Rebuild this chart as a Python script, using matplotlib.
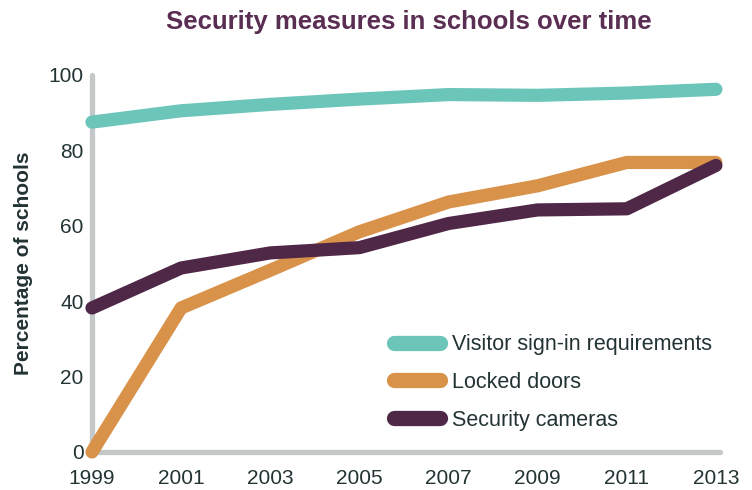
import matplotlib.pyplot as plt

years = [1999, 2001, 2003, 2005, 2007, 2009, 2011, 2013]
visitor = [87.5, 90.5, 92.2, 93.6, 94.8, 94.6, 95.2, 96.2]
locked = [0.0, 38.2, 48.2, 58.4, 66.3, 70.6, 76.8, 76.8]
cameras = [38.2, 48.8, 52.8, 54.2, 60.6, 64.2, 64.5, 76.0]

series_names = ["Visitor sign-in requirements", "Locked doors", "Security cameras"]
colors = ["#6cc5b9", "#d9924a", "#4f2848"]
text_color = "#233333"
grey = "#c4c8c9"

plt.rcParams['font.family'] = ['Liberation Sans', 'DejaVu Sans']

fig = plt.figure(figsize=(7.52, 4.90), dpi=100)
ax = fig.add_axes([0.1223, 0.0776, 0.8297, 0.7694])

for vals, name, c in zip([visitor, locked, cameras], series_names, colors):
    ax.plot(years, vals, color=c, lw=9.5, solid_capstyle='round',
            solid_joinstyle='round', label=name, clip_on=False, zorder=3)

ax.set_xlim(1999, 2013)
ax.set_ylim(0, 100)
ax.set_xticks(years)
ax.set_yticks([0, 20, 40, 60, 80, 100])

for s in ['top', 'right']:
    ax.spines[s].set_visible(False)
for s in ['left', 'bottom']:
    ax.spines[s].set_color(grey)
    ax.spines[s].set_linewidth(3.8)
    ax.spines[s].set_capstyle('round')
ax.spines['bottom'].set_bounds(1999, 2013.1)

ax.tick_params(length=0, labelsize=15, colors=text_color, pad=6)
ax.tick_params(axis='x', pad=12)

ax.set_ylabel("Percentage of schools", fontsize=15, fontweight='bold',
              color=text_color, labelpad=11)
fig.suptitle("Security measures in schools over time", x=0.543, y=0.979,
             fontsize=18.5, fontweight='bold', color="#5a2d52")

leg = ax.legend(loc='lower right', bbox_to_anchor=(1.025, 0.005), frameon=False,
                fontsize=15.5, handlelength=2.15, handletextpad=0.55,
                labelspacing=0.78, labelcolor=text_color)
for h in leg.get_lines():
    h.set_linewidth(11)

fig.savefig("out.png", dpi=100)
